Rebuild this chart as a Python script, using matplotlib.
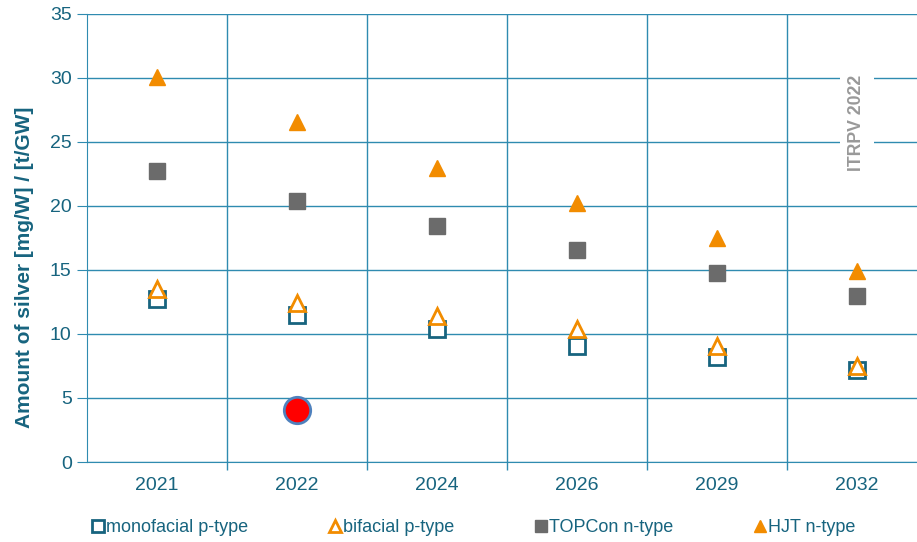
import matplotlib.pyplot as plt

years = ["2021", "2022", "2024", "2026", "2029", "2032"]
mono_p = [12.7, 11.5, 10.4, 9.1, 8.2, 7.2]
bifi_p = [13.5, 12.4, 11.4, 10.4, 9.1, 7.5]
topcon_n = [22.7, 20.4, 18.4, 16.6, 14.8, 13.0]
hjt_n = [30.1, 26.6, 23.0, 20.2, 17.5, 14.9]
highlight_year = 1  # index of 2022
highlight_value = 4.1

teal = "#17647F"
grid = "#2F8BB0"
orange = "#F28C00"
gray = "#6B6B6B"

plt.rcParams["font.family"] = ["Liberation Sans", "DejaVu Sans"]

fig = plt.figure(figsize=(9.17, 5.42), dpi=100)
ax = fig.add_axes([0.0949, 0.1476, 0.916, 0.8266])

x = list(range(len(years)))
ax.plot(x, hjt_n, "^", color=orange, markersize=12, label="HJT n-type", zorder=4)
ax.plot(x, topcon_n, "s", color=gray, markersize=11.5, label="TOPCon n-type", zorder=4)
ax.plot(x, bifi_p, "^", color=orange, markerfacecolor="white", markeredgewidth=2,
        markersize=11, label="bifacial p-type", zorder=4)
ax.plot(x, mono_p, "s", color=teal, markerfacecolor="white", markeredgewidth=2,
        markersize=11.5, label="monofacial p-type", zorder=3)
ax.plot([highlight_year], [highlight_value], "o", color="red", markeredgecolor="#4F81BD",
        markeredgewidth=2, markersize=19, zorder=5)

ax.set_xlim(-0.5, len(years) - 0.5)
ax.set_ylim(0, 35)
ax.set_yticks(range(0, 36, 5))
ax.set_xticks(x)
ax.set_xticklabels(years)
ax.set_xticks([i + 0.5 for i in x[:-1]], minor=True)
ax.tick_params(axis="x", which="major", length=0, labelsize=14, labelcolor=teal, pad=11)
ax.tick_params(axis="x", which="minor", length=6, color=grid, width=1)
ax.tick_params(axis="y", length=7, color=grid, labelsize=14, labelcolor=teal, pad=4)
ax.grid(axis="y", color=grid, linewidth=1)
ax.grid(axis="x", which="minor", color=grid, linewidth=1)
ax.set_axisbelow(True)
for s in ["top", "right"]:
    ax.spines[s].set_visible(False)
ax.spines["left"].set_color(grid)
ax.spines["bottom"].set_color(grid)

ax.set_ylabel("Amount of silver [mg/W] / [t/GW]", fontsize=15, fontweight="bold",
              color=teal)
ax.yaxis.set_label_coords(-0.063, 0.435)

ax.text(5, 26.5, "ITRPV 2022", rotation=90, ha="center", va="center", fontsize=12.7,
        fontweight="bold", color="#999999", zorder=3,
        bbox=dict(facecolor="white", edgecolor="none", pad=6))

h, l = ax.get_legend_handles_labels()
order = [3, 2, 1, 0]
leg = fig.legend([h[i] for i in order], [l[i] for i in order], loc="center left",
                 bbox_to_anchor=(0.083, 0.027), ncol=4, frameon=False, fontsize=13,
                 handlelength=0.6, handletextpad=0.15, columnspacing=4.5, markerscale=0.75)
for t in leg.get_texts():
    t.set_color(teal)

fig.savefig("out.png", dpi=100)
